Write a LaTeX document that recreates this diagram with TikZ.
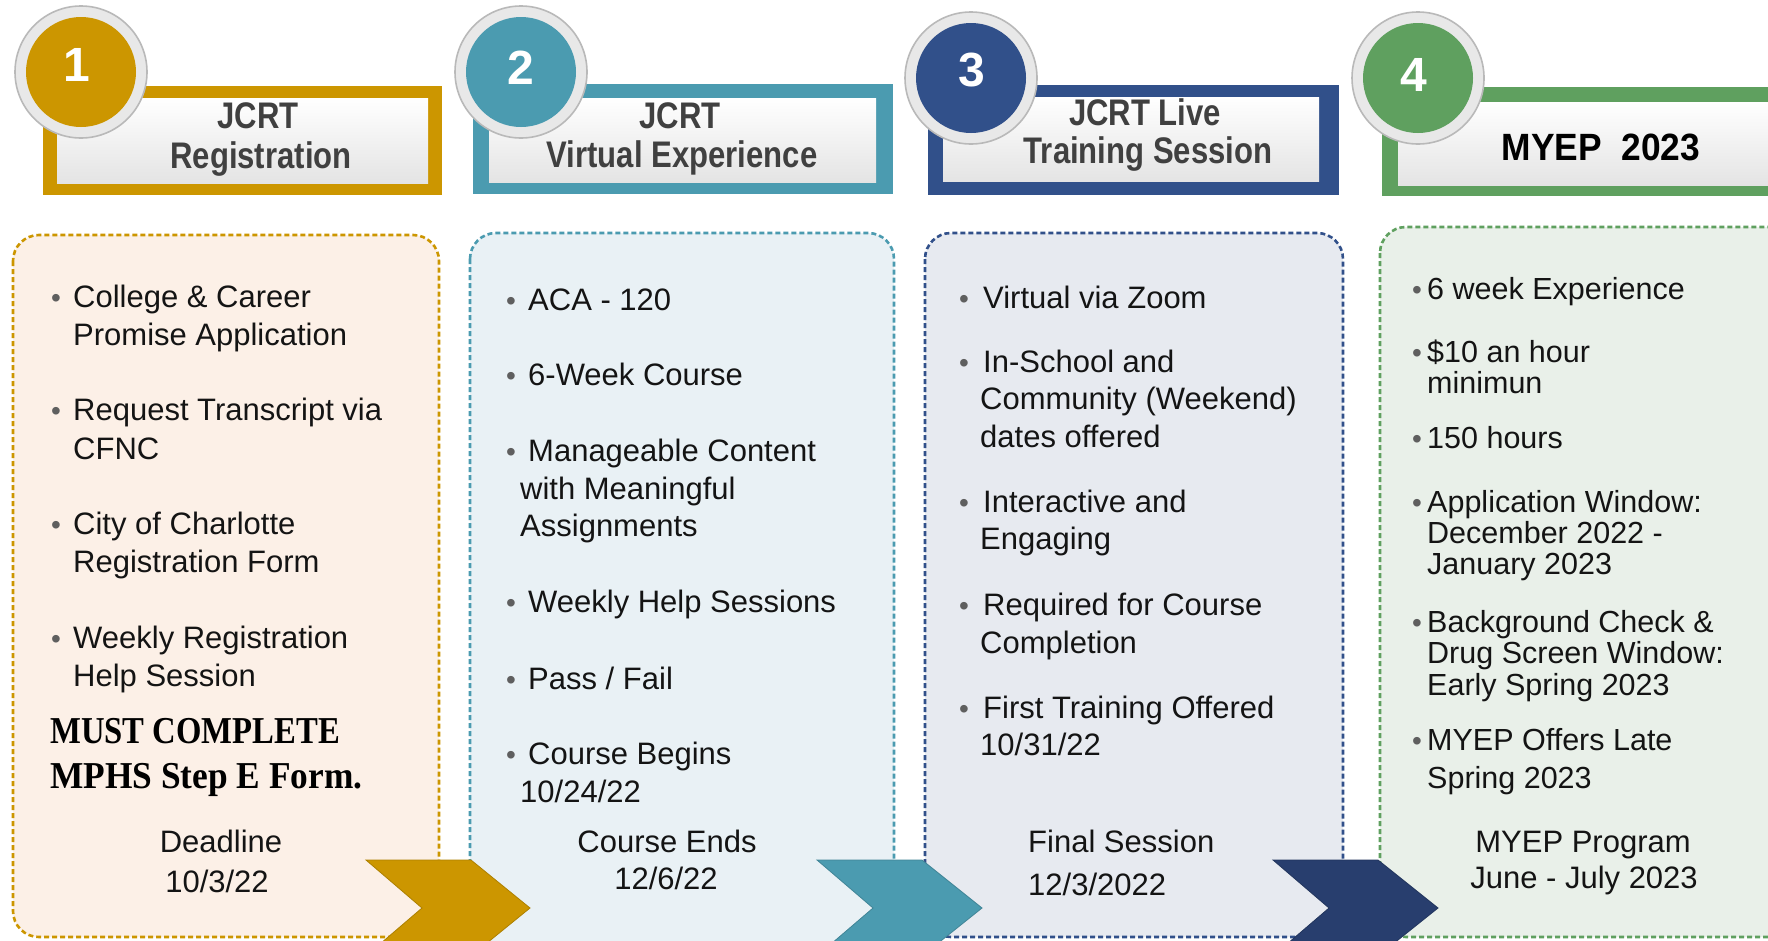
\documentclass[tikz,border=0pt]{standalone}
\usepackage{fontspec}
\setmainfont{Liberation Sans}
\newfontfamily\serifbold{Liberation Serif}
\definecolor{cgold}{RGB}{204,150,0}
\definecolor{cteal}{RGB}{75,155,176}
\definecolor{cnavy}{RGB}{49,80,138}
\definecolor{cnavyc}{RGB}{40,62,110}
\definecolor{cgreen}{RGB}{95,160,95}
\definecolor{fgold}{RGB}{252,240,231}
\definecolor{fteal}{RGB}{233,241,245}
\definecolor{fnavy}{RGB}{231,234,240}
\definecolor{fgreen}{RGB}{233,240,233}
\definecolor{hgray}{RGB}{228,228,228}
\definecolor{ringfill}{RGB}{232,232,232}
\definecolor{ringline}{RGB}{185,185,185}
\definecolor{txtc}{RGB}{20,20,20}
\definecolor{htxtc}{RGB}{64,64,64}
\definecolor{dotc}{RGB}{95,95,95}
\newcommand{\bl}[4]{\node[btxt] (#1) at (#2,#3) {#4};}
\newcommand{\bfour}[4]{\node[ftxt] (#1) at (#2,#3) {#4};}
\newcommand{\bd}[3]{\node[bdot] (#1) at (#2,#3) {\textbullet};}
\newcommand{\bc}[4]{\node[bctr] (#1) at (#2,#3) {#4};}
\newcommand{\hl}[4]{\node[htxt] (#1) at (#2,#3) {\scalebox{0.84}[1]{#4}};}
\begin{document}
\begin{tikzpicture}[x=1pt,y=-1pt,
  btxt/.style={anchor=base west, inner sep=0pt, text=txtc, font=\fontsize{31}{31}\selectfont},
  ftxt/.style={anchor=base west, inner sep=0pt, text=txtc, font=\fontsize{30.5}{31}\selectfont},
  bctr/.style={anchor=base, inner sep=0pt, text=txtc, font=\fontsize{31}{31}\selectfont},
  bdot/.style={anchor=base, inner sep=0pt, text=dotc, font=\fontsize{28}{28}\selectfont},
  htxt/.style={anchor=base, inner sep=0pt, text=htxtc, font=\fontsize{37}{37}\selectfont\bfseries},
  numtxt/.style={anchor=center, inner sep=0pt, text=white, font=\fontsize{48}{48}\selectfont\bfseries},
  cbox/.style={line width=2.6pt, dash pattern=on 5pt off 3pt, rounded corners=26pt},
  ring/.style={fill=ringfill, draw=ringline, line width=1.6pt},
  mustt/.style={anchor=base west, inner sep=0pt, text=black, font=\fontsize{38}{38}\selectfont\serifbold\bfseries}
]
\useasboundingbox (0,0) rectangle (1768,940);
\clip (0,0) rectangle (1768,940);
\fill[white] (0,0) rectangle (1768,940);

% ---------- content boxes ----------
\draw[cbox, draw=cgold, fill=fgold] (13,235) rectangle (439,937);
\draw[cbox, draw=cteal, fill=fteal] (470,233) rectangle (894,946);
\draw[cbox, draw=cnavy, fill=fnavy] (925,233) rectangle (1343,937);
\draw[cbox, draw=cgreen, fill=fgreen] (1380,227) rectangle (1800,937);

% ---------- chevrons ----------
\fill[cgold, draw=cgold!85!black, line width=0.8pt] (366,860) -- (471,860) -- (530,908) -- (471,956) -- (366,956) -- (422,908) -- cycle;
\fill[cteal, draw=cteal!85!black, line width=0.8pt] (817,860) -- (922,860) -- (982,908) -- (922,956) -- (817,956) -- (873,908) -- cycle;
\fill[cnavyc, draw=cnavyc!85!black, line width=0.8pt] (1273,860) -- (1378,860) -- (1438,908) -- (1378,956) -- (1273,956) -- (1329,908) -- cycle;

% ---------- header boxes ----------
\fill[cgold] (43,86) rectangle (442,195);
\shade[top color=white, bottom color=hgray] (57,98) rectangle (428,183);
\fill[cteal] (473,84) rectangle (893,194);
\shade[top color=white, bottom color=hgray] (489,98) rectangle (876,182);
\fill[cnavy] (928,85) rectangle (1339,195);
\shade[top color=white, bottom color=hgray] (943,97) rectangle (1319,181);
\fill[cgreen] (1382,87) rectangle (1800,196);
\shade[top color=white, bottom color=hgray] (1398,102) rectangle (1800,185);

% ---------- number circles ----------
\draw[ring] (81,72) circle (66);
\fill[cgold] (81,72) circle (55);
\draw[ring] (521,72) circle (66);
\fill[cteal] (521,72) circle (55);
\draw[ring] (971,78) circle (66);
\fill[cnavy] (971,78) circle (55);
\draw[ring] (1418,78) circle (66);
\fill[cgreen] (1418,78) circle (55);
\node[numtxt] (n1) at (77,65) {1};
\node[numtxt] (n2) at (521,68) {2};
\node[numtxt] (n3) at (972,70) {3};
\node[numtxt] (n4) at (1414,75) {4};

% ---------- header texts ----------
\hl{h1a}{258}{128}{JCRT}
\hl{h1b}{261}{168}{Registration}
\hl{h2a}{680}{128}{JCRT}
\hl{h2b}{682}{167}{Virtual Experience}
\hl{h3a}{1145}{125}{JCRT Live}
\hl{h3b}{1148}{163}{Training Session}
\node[anchor=base, inner sep=0pt, text=black, font=\fontsize{38}{38}\selectfont\bfseries] (h4a) at (1601,160) {\scalebox{0.93}[1]{MYEP\ \ 2023}};

% ---------- column 1 ----------
\bd{d11}{56}{307}\bl{t11a}{73}{307}{College \& Career}
\bl{t11b}{73}{345}{Promise Application}
\bd{d12}{56}{420}\bl{t12a}{73}{420}{Request Transcript via}
\bl{t12b}{73}{459}{CFNC}
\bd{d13}{56}{534}\bl{t13a}{73}{534}{City of Charlotte}
\bl{t13b}{73}{572}{Registration Form}
\bd{d14}{56}{648}\bl{t14a}{73}{648}{Weekly Registration}
\bl{t14b}{73}{686}{Help Session}
\node[mustt] (m1) at (50,743) {\scalebox{0.86}[1]{MUST COMPLETE}};
\node[mustt] (m2) at (50,788) {\scalebox{0.93}[1]{MPHS Step E Form.}};
\bc{dl1}{221}{852}{Deadline}
\bc{dl2}{217}{892}{10/3/22}

% ---------- column 2 ----------
\bd{d21}{511}{310}\bl{t21}{528}{310}{ACA - 120}
\bd{d22}{511}{385}\bl{t22}{528}{385}{6-Week Course}
\bd{d23}{511}{461}\bl{t23a}{528}{461}{Manageable Content}
\bl{t23b}{520}{499}{with Meaningful}
\bl{t23c}{520}{536}{Assignments}
\bd{d24}{511}{612}\bl{t24}{528}{612}{Weekly Help Sessions}
\bd{d25}{511}{689}\bl{t25}{528}{689}{Pass / Fail}
\bd{d26}{511}{764}\bl{t26a}{528}{764}{Course Begins}
\bl{t26b}{520}{802}{10/24/22}
\bc{ce1}{667}{852}{Course Ends}
\bc{ce2}{666}{889}{12/6/22}

% ---------- column 3 ----------
\bd{d31}{964}{308}\bl{t31}{983}{308}{Virtual via Zoom}
\bd{d32}{964}{372}\bl{t32a}{983}{372}{In-School and}
\bl{t32b}{980}{409}{Community (Weekend)}
\bl{t32c}{980}{447}{dates offered}
\bd{d33}{964}{512}\bl{t33a}{983}{512}{Interactive and}
\bl{t33b}{980}{549}{Engaging}
\bd{d34}{964}{615}\bl{t34a}{983}{615}{Required for Course}
\bl{t34b}{980}{653}{Completion}
\bd{d35}{964}{718}\bl{t35a}{983}{718}{First Training Offered}
\bl{t35b}{980}{755}{10/31/22}
\bl{fs1}{1028}{852}{Final Session}
\bl{fs2}{1028}{895}{12/3/2022}

% ---------- column 4 ----------
\bd{d41}{1417}{299}\bfour{t41}{1427}{299}{6 week Experience}
\bd{d42}{1417}{362}\bfour{t42a}{1427}{362}{\$10 an hour}
\bfour{t42b}{1427}{393}{minimun}
\bd{d43}{1417}{448}\bfour{t43}{1427}{448}{150 hours}
\bd{d44}{1417}{512}\bfour{t44a}{1427}{512}{Application Window:}
\bfour{t44b}{1427}{543}{December 2022 -}
\bfour{t44c}{1427}{574}{January 2023}
\bd{d45}{1417}{632}\bfour{t45a}{1427}{632}{Background Check \&}
\bfour{t45b}{1427}{663}{Drug Screen Window:}
\bfour{t45c}{1427}{695}{Early Spring 2023}
\bd{d46}{1417}{750}\bfour{t46a}{1427}{750}{MYEP Offers Late}
\bfour{t46b}{1427}{788}{Spring 2023}
\bc{mp1}{1583}{852}{MYEP Program}
\bc{mp2}{1584}{888}{June - July 2023}
\end{tikzpicture}
\end{document}
